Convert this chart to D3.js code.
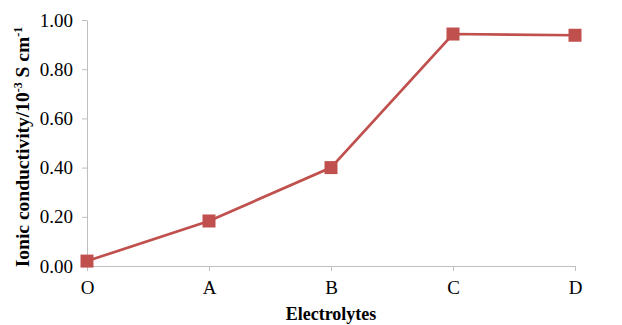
<!DOCTYPE html>
<html>
<head>
<meta charset="utf-8">
<script src="https://cdn.jsdelivr.net/npm/d3@7"></script>
<style>
  body { margin: 0; background: #fff; }
  svg { display: block; }
</style>
</head>
<body>
<script>
// chart data
var categories = ["O", "A", "B", "C", "D"]
var conductivity = [0.02, 0.183, 0.40, 0.943, 0.938]
var yTicks = [0, 0.2, 0.4, 0.6, 0.8, 1.0]

var width = 622, height = 325
var margin = { top: 20, right: 47, bottom: 59, left: 87 }
var plotW = width - margin.left - margin.right
var plotH = height - margin.top - margin.bottom
var red = "#c0504d"
var axisColor = "#bfbfbf"
var font = "'Liberation Serif', 'Times New Roman', serif"

var svg = d3.select("body").append("svg")
  .attr("width", width)
  .attr("height", height)

var g = svg.append("g")
  .attr("transform", "translate(" + margin.left + "," + margin.top + ")")

var x = d3.scalePoint().domain(categories).range([0, plotW])
var y = d3.scaleLinear().domain([0, 1]).range([plotH, 0])

// y axis
var yAxis = g.append("g")
  .call(d3.axisLeft(y).tickValues(yTicks).tickFormat(d3.format(".2f")).tickSize(5).tickSizeOuter(0))
yAxis.selectAll("path, line").attr("stroke", axisColor)
yAxis.selectAll("text")
  .attr("font-family", font)
  .attr("font-size", 19)
  .attr("fill", "#000")
  .attr("x", -14)

// x axis
var xAxis = g.append("g")
  .attr("transform", "translate(0," + plotH + ")")
  .call(d3.axisBottom(x).tickSize(5).tickSizeOuter(0))
xAxis.selectAll("path, line").attr("stroke", axisColor)
xAxis.selectAll("text")
  .attr("font-family", font)
  .attr("font-size", 19)
  .attr("fill", "#000")
  .attr("y", 15)

// line
var line = d3.line()
  .x(function(d, i){ return x(categories[i]) })
  .y(function(d){ return y(d) })

g.append("path")
  .datum(conductivity)
  .attr("d", line)
  .attr("fill", "none")
  .attr("stroke", red)
  .attr("stroke-width", 2.7)

var sq = 13
g.selectAll(".marker")
    .data(conductivity)
    .enter()
  .append("rect")
    .attr("class", "marker")
    .attr("x", function(d, i){ return x(categories[i]) - sq/2 })
    .attr("y", function(d){ return y(d) - sq/2 })
    .attr("width", sq)
    .attr("height", sq)
    .attr("fill", red)

// axis titles
svg.append("text")
  .attr("x", margin.left + plotW/2)
  .attr("y", 320)
  .attr("text-anchor", "middle")
  .attr("font-family", font)
  .attr("font-weight", "bold")
  .attr("font-size", 18)
  .text("Electrolytes")

var yTitle = svg.append("text")
  .attr("transform", "translate(29,147) rotate(-90)")
  .attr("text-anchor", "middle")
  .attr("font-family", font)
  .attr("font-weight", "bold")
  .attr("font-size", 19.5)
yTitle.append("tspan").text("Ionic conductivity/10")
yTitle.append("tspan").attr("baseline-shift", "super").attr("font-size", 12).text("-3")
yTitle.append("tspan").text(" S cm")
yTitle.append("tspan").attr("baseline-shift", "super").attr("font-size", 12).text("-1")
</script>
</body>
</html>
